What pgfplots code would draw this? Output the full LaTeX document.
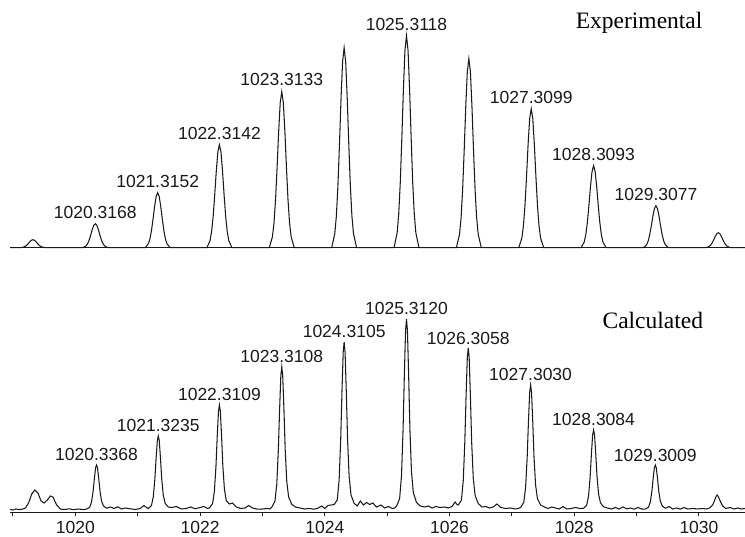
\documentclass[border=0pt]{standalone}
\usepackage{pgfplots}
\pgfplotsset{compat=1.18}
\usepackage{fontspec}
\setmainfont{Liberation Sans}
\newfontfamily\timesfont{Liberation Serif}
\newcommand{\lab}{\fontsize{17.5}{20}\selectfont}
\begin{document}
\begin{tikzpicture}
\useasboundingbox (0,0) rectangle (745pt,537pt);
\pgfplotsset{
  spec/.style={
    scale only axis, width=735pt,
    xmin=1018.952, xmax=1030.738,
    axis x line=bottom, axis y line=none,
    axis line style={-, line width=1.1pt, black!90},
    clip=false,
    every axis plot/.append style={line width=1.05pt, black!90},
  }
}
% ---------------- Experimental (top) ----------------
\begin{axis}[spec, at={(10pt,289.3pt)}, anchor=south west,
  height=247.7pt, ymin=0, ymax=247.7, xtick=\empty]
\addplot[mark=none] coordinates {
(1018.952,0) (1019.12,0) (1019.17,0.6) (1019.195,1.3) (1019.22,2.4) (1019.245,4.1) (1019.27,6.0) (1019.295,7.4) (1019.32,8) (1019.345,7.4) (1019.37,6.0) (1019.395,4.1) (1019.42,2.4) (1019.445,1.3) (1019.47,0.6) (1019.52,0)
(1020.12,0) (1020.17,1.7) (1020.195,3.8) (1020.22,7.3) (1020.245,12.3) (1020.27,17.9) (1020.295,22.3) (1020.32,24) (1020.345,22.3) (1020.37,17.9) (1020.395,12.3) (1020.42,7.3) (1020.445,3.8) (1020.47,1.7) (1020.52,0)
(1021.12,0) (1021.17,3.9) (1021.195,8.6) (1021.22,16.8) (1021.245,28.3) (1021.27,40.9) (1021.295,51.1) (1021.32,55) (1021.345,51.1) (1021.37,40.9) (1021.395,28.3) (1021.42,16.8) (1021.445,8.6) (1021.47,3.9) (1021.52,0)
(1022.11,0) (1022.16,7.2) (1022.185,16.2) (1022.21,31.5) (1022.235,52.9) (1022.26,76.6) (1022.285,95.7) (1022.31,103) (1022.335,95.7) (1022.36,76.6) (1022.385,52.9) (1022.41,31.5) (1022.435,16.2) (1022.46,7.2) (1022.51,0)
(1023.11,0) (1023.16,10.9) (1023.185,24.5) (1023.21,47.7) (1023.235,80.2) (1023.26,116.1) (1023.285,144.9) (1023.31,156) (1023.335,144.9) (1023.36,116.1) (1023.385,80.2) (1023.41,47.7) (1023.435,24.5) (1023.46,10.9) (1023.51,0)
(1024.11,0) (1024.16,14.0) (1024.185,31.4) (1024.21,61.2) (1024.235,102.8) (1024.26,148.8) (1024.285,185.8) (1024.31,200) (1024.335,185.8) (1024.36,148.8) (1024.385,102.8) (1024.41,61.2) (1024.435,31.4) (1024.46,14.0) (1024.51,0)
(1025.11,0) (1025.16,14.8) (1025.185,33.3) (1025.21,64.9) (1025.235,109.0) (1025.26,157.7) (1025.285,197.0) (1025.31,212) (1025.335,197.0) (1025.36,157.7) (1025.385,109.0) (1025.41,64.9) (1025.435,33.3) (1025.46,14.8) (1025.51,0)
(1026.11,0) (1026.16,13.2) (1026.185,29.7) (1026.21,57.8) (1026.235,97.1) (1026.26,140.6) (1026.285,175.6) (1026.31,189) (1026.335,175.6) (1026.36,140.6) (1026.385,97.1) (1026.41,57.8) (1026.435,29.7) (1026.46,13.2) (1026.51,0)
(1027.11,0) (1027.16,9.7) (1027.185,21.8) (1027.21,42.5) (1027.235,71.4) (1027.26,103.4) (1027.285,129.1) (1027.31,139) (1027.335,129.1) (1027.36,103.4) (1027.385,71.4) (1027.41,42.5) (1027.435,21.8) (1027.46,9.7) (1027.51,0)
(1028.11,0) (1028.16,5.7) (1028.185,12.9) (1028.21,25.1) (1028.235,42.1) (1028.26,61.0) (1028.285,76.2) (1028.31,82) (1028.335,76.2) (1028.36,61.0) (1028.385,42.1) (1028.41,25.1) (1028.435,12.9) (1028.46,5.7) (1028.51,0)
(1029.11,0) (1029.16,2.9) (1029.185,6.6) (1029.21,12.9) (1029.235,21.6) (1029.26,31.2) (1029.285,39.0) (1029.31,42) (1029.335,39.0) (1029.36,31.2) (1029.385,21.6) (1029.41,12.9) (1029.435,6.6) (1029.46,2.9) (1029.51,0)
(1030.11,0) (1030.16,1.1) (1030.185,2.4) (1030.21,4.6) (1030.235,7.7) (1030.26,11.2) (1030.285,13.9) (1030.31,15) (1030.335,13.9) (1030.36,11.2) (1030.385,7.7) (1030.41,4.6) (1030.435,2.4) (1030.46,1.1) (1030.51,0) (1030.738,0)
};
\begin{scope}[every node/.style={font=\lab, text=black!90, inner sep=0pt}]
\node at (axis cs:1020.32,35) {1020.3168};
\node at (axis cs:1021.32,66) {1021.3152};
\node at (axis cs:1022.31,114) {1022.3142};
\node at (axis cs:1023.31,168) {1023.3133};
\node at (axis cs:1025.31,223) {1025.3118};
\node at (axis cs:1027.31,150) {1027.3099};
\node at (axis cs:1028.31,93) {1028.3093};
\node at (axis cs:1029.31,53) {1029.3077};
\end{scope}
\node[font=\timesfont\fontsize{23.5}{26}\selectfont, inner sep=0pt] at (axis cs:1029.04,224.7) {Experimental};
\end{axis}
% ---------------- Calculated (bottom) ----------------
\begin{axis}[spec, at={(10pt,24.5pt)}, anchor=south west,
  height=217.5pt, ymin=-2.5, ymax=215,
  xtick={1020,1022,...,1030}, minor xtick={1019,1021,...,1029},
  tick align=outside, major tick length=4pt, minor tick length=4pt,
  tick style={line width=1pt, black!90},
  xticklabel style={font=\lab, text=black!90, inner sep=0pt, anchor=north,
    text height=12.4pt, text depth=0pt, yshift=-4pt},
  /pgf/number format/assume math mode=true,
  /pgf/number format/1000 sep={},
  x tick label style={/pgf/number format/fixed}]
\addplot[mark=none] coordinates {
(1018.952,0.5) (1019.00,0) (1019.05,1) (1019.10,0.3) (1019.15,0.8) (1019.20,2) (1019.25,7) (1019.30,16) (1019.35,20) (1019.40,17) (1019.45,9) (1019.50,7) (1019.55,10) (1019.60,14) (1019.64,13) (1019.70,5) (1019.76,1) (1019.82,0.5) (1019.90,1.2) (1019.97,0.3) (1020.05,1) (1020.12,0.4)
(1020.18,0.9) (1020.23,2.7) (1020.26,8.1) (1020.285,18.9) (1020.305,31.5) (1020.325,42.3) (1020.34,45) (1020.355,42.3) (1020.375,31.5) (1020.395,18.9) (1020.42,9.0) (1020.45,4.1) (1020.50,1.8)
(1020.56,3.0) (1020.62,1.5) (1020.68,3.2) (1020.74,1.0) (1020.80,2.0) (1020.88,1.2) (1020.96,0.5) (1021.04,1.5) (1021.10,4.5) (1021.14,2.5)
(1021.17,1.5) (1021.22,4.4) (1021.25,13.3) (1021.275,31.1) (1021.295,51.8) (1021.315,69.6) (1021.33,74) (1021.345,69.6) (1021.365,51.8) (1021.385,31.1) (1021.41,14.8) (1021.44,6.7) (1021.49,3.0)
(1021.55,2.5) (1021.62,3.5) (1021.70,1.0) (1021.78,1.5) (1021.85,3.0) (1021.92,1.2) (1022.00,2.5) (1022.06,3.5) (1022.12,1.5)
(1022.15,2.1) (1022.20,6.3) (1022.23,18.9) (1022.255,44.1) (1022.275,73.5) (1022.295,98.7) (1022.31,105) (1022.325,98.7) (1022.345,73.5) (1022.365,44.1) (1022.39,21.0) (1022.42,9.5) (1022.47,6.0)
(1022.52,7.0) (1022.58,3.0) (1022.65,1.5) (1022.72,2.0) (1022.78,4.5) (1022.84,2.0) (1022.92,0.8) (1023.00,1.0) (1023.08,1.5) (1023.12,1.0)
(1023.15,2.9) (1023.20,8.6) (1023.23,25.7) (1023.255,60.1) (1023.275,100.1) (1023.295,134.4) (1023.31,143) (1023.325,134.4) (1023.345,100.1) (1023.365,60.1) (1023.39,28.6) (1023.42,12.9) (1023.47,5.7)
(1023.53,3.0) (1023.60,2.0) (1023.68,1.0) (1023.75,1.5) (1023.82,0.8) (1023.88,1.5) (1023.95,4.0) (1024.00,1.5) (1024.05,4.5) (1024.10,5.0)
(1024.15,5.4) (1024.20,10.1) (1024.23,30.2) (1024.255,70.6) (1024.275,117.6) (1024.295,157.9) (1024.31,168) (1024.325,157.9) (1024.345,117.6) (1024.365,70.6) (1024.39,33.6) (1024.42,15.1) (1024.47,6.7)
(1024.52,4.0) (1024.57,9.0) (1024.62,5.0) (1024.67,7.5) (1024.72,5.5) (1024.77,7.0) (1024.83,3.0) (1024.90,5.0) (1024.96,2.0) (1025.02,3.5) (1025.08,1.5) (1025.12,2.0)
(1025.15,3.8) (1025.20,11.5) (1025.23,34.4) (1025.255,80.2) (1025.275,133.7) (1025.295,179.5) (1025.31,191) (1025.325,179.5) (1025.345,133.7) (1025.365,80.2) (1025.39,38.2) (1025.42,17.2) (1025.47,7.6)
(1025.53,4.0) (1025.60,3.0) (1025.66,4.0) (1025.72,2.0) (1025.78,3.5) (1025.85,2.5) (1025.92,3.0) (1025.98,2.0) (1026.04,3.5) (1026.09,8.0) (1026.12,5.5)
(1026.14,5.0) (1026.19,9.7) (1026.22,29.2) (1026.245,68.0) (1026.265,113.4) (1026.285,152.3) (1026.30,162) (1026.315,152.3) (1026.335,113.4) (1026.355,68.0) (1026.38,32.4) (1026.41,14.6) (1026.46,6.5)
(1026.52,3.0) (1026.58,3.5) (1026.64,2.0) (1026.70,3.0) (1026.76,6.0) (1026.82,2.5) (1026.90,1.5) (1026.98,2.0) (1027.05,1.0) (1027.10,1.5)
(1027.14,2.5) (1027.19,7.5) (1027.22,22.5) (1027.245,52.5) (1027.265,87.5) (1027.285,117.5) (1027.30,125) (1027.315,117.5) (1027.335,87.5) (1027.355,52.5) (1027.38,25.0) (1027.41,11.3) (1027.46,5.0)
(1027.52,3.0) (1027.58,1.5) (1027.64,3.0) (1027.70,2.0) (1027.76,1.0) (1027.82,3.5) (1027.88,1.0) (1027.95,1.5) (1028.02,2.5) (1028.09,1.5)
(1028.15,1.6) (1028.20,4.8) (1028.23,14.4) (1028.255,33.6) (1028.275,56.0) (1028.295,75.2) (1028.31,80) (1028.325,75.2) (1028.345,56.0) (1028.365,33.6) (1028.39,16.0) (1028.42,7.2) (1028.47,3.2)
(1028.53,2.0) (1028.60,1.0) (1028.66,2.5) (1028.72,1.0) (1028.78,3.0) (1028.84,1.2) (1028.90,2.0) (1028.96,0.8) (1029.02,2.5) (1029.08,1.0)
(1029.14,0.9) (1029.19,2.7) (1029.22,8.1) (1029.245,18.9) (1029.265,31.5) (1029.285,42.3) (1029.30,45) (1029.315,42.3) (1029.335,31.5) (1029.355,18.9) (1029.38,9.0) (1029.41,4.1) (1029.46,1.8)
(1029.52,3.5) (1029.58,1.0) (1029.64,2.0) (1029.70,0.8) (1029.76,2.5) (1029.82,1.0) (1029.90,1.5) (1029.98,1.0) (1030.05,1.5) (1030.12,1.0)
(1030.17,2.0) (1030.22,5.0) (1030.25,9.5) (1030.27,13.0) (1030.29,15) (1030.31,13.5) (1030.34,9.0) (1030.38,4.0) (1030.43,1.5)
(1030.50,2.5) (1030.56,1.0) (1030.62,2.0) (1030.68,1.0) (1030.738,1.5)
};
\begin{scope}[every node/.style={font=\lab, text=black!90, inner sep=0pt}]
\node at (axis cs:1020.34,56) {1020.3368};
\node at (axis cs:1021.33,85) {1021.3235};
\node at (axis cs:1022.31,116) {1022.3109};
\node at (axis cs:1023.31,154) {1023.3108};
\node at (axis cs:1024.31,179) {1024.3105};
\node at (axis cs:1025.31,202) {1025.3120};
\node at (axis cs:1026.30,172) {1026.3058};
\node at (axis cs:1027.30,136) {1027.3030};
\node at (axis cs:1028.31,91) {1028.3084};
\node at (axis cs:1029.30,55) {1029.3009};
\end{scope}
\node[font=\timesfont\fontsize{23.5}{26}\selectfont, inner sep=0pt] at (axis cs:1029.26,190) {Calculated};
\end{axis}
\end{tikzpicture}
\end{document}
